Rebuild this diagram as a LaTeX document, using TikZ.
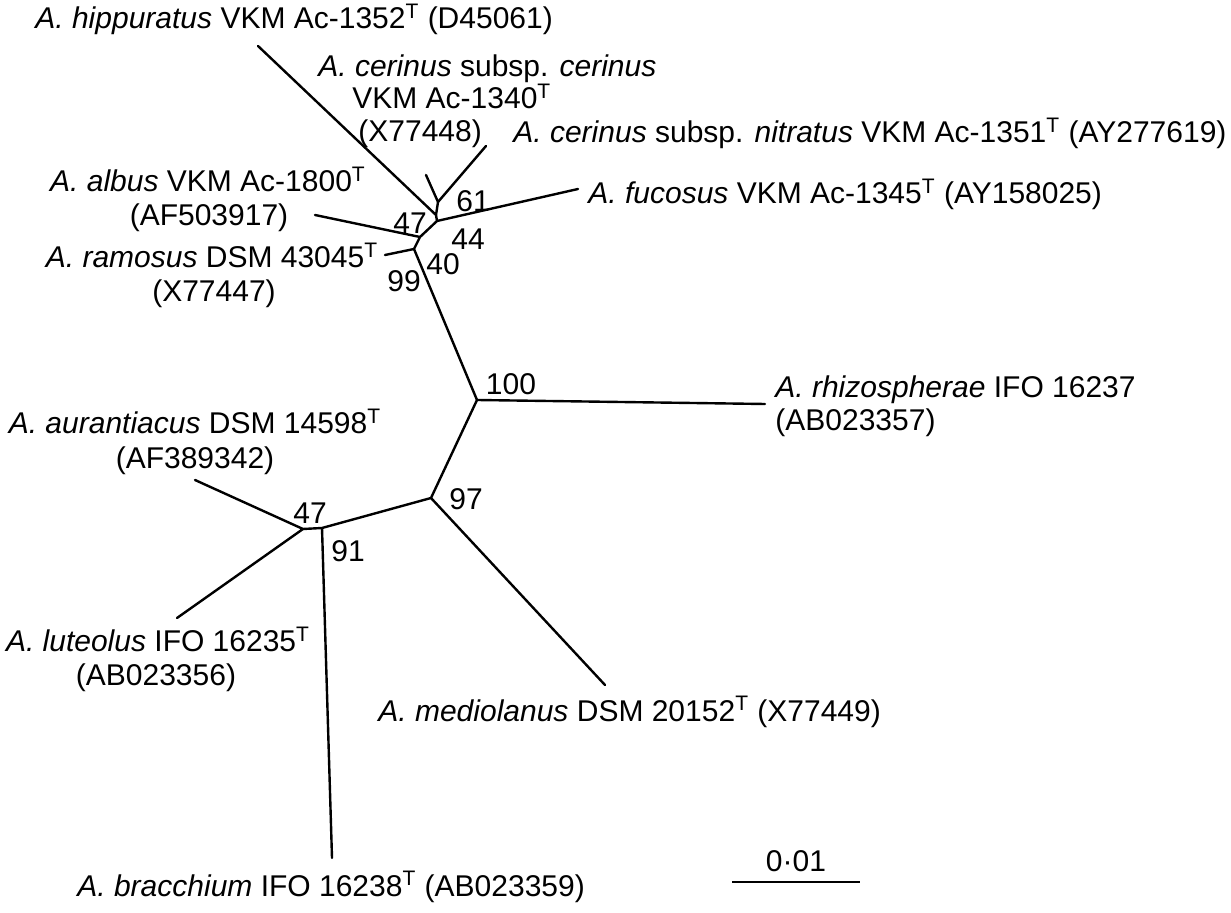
\documentclass[tikz,border=0pt]{standalone}
\usepackage{fontspec}
\setmainfont{Liberation Sans}
\newcommand{\treefont}{\fontsize{15}{17}\selectfont}
\newcommand{\typeT}{\textsuperscript{T}}

\begin{document}
\begin{tikzpicture}[x=0.5pt, y=-0.5pt,
  branch/.style={line width=1.2pt, line cap=round, line join=round},
  taxon/.style={inner sep=0pt, font=\treefont},
  boot/.style={inner sep=0pt, font=\treefont},
]
\useasboundingbox (0,0) rectangle (1231,913);

% Internal nodes of the tree
\coordinate (ncer) at (438,202);
\coordinate (nhip) at (436,215);
\coordinate (nfuc) at (437,221);
\coordinate (nalb) at (420,237);
\coordinate (nram) at (414,249);
\coordinate (nroot) at (477,400);
\coordinate (nmed) at (431,498);
\coordinate (nbra) at (322,528);
\coordinate (naur) at (303,529);

% Leaf ends
\coordinate (lhip) at (258,46);
\coordinate (lcer) at (426,175);
\coordinate (lnit) at (486,146);
\coordinate (lfuc) at (578,189);
\coordinate (lalb) at (315,215);
\coordinate (lram) at (385,255);
\coordinate (lrhi) at (765,404);
\coordinate (lmed) at (605,685);
\coordinate (laur) at (195,480);
\coordinate (llut) at (177,618);
\coordinate (lbra) at (332,858);

% Branches -- upper group
\draw[branch] (lcer) -- (ncer) -- (lnit);
\draw[branch] (ncer) -- (nhip) -- (nfuc) -- (nalb) -- (nram) -- (nroot);
\draw[branch] (lhip) -- (nhip);
\draw[branch] (nfuc) -- (lfuc);
\draw[branch] (lalb) -- (nalb);
\draw[branch] (lram) -- (nram);

% Branches -- lower group
\draw[branch] (nroot) -- (lrhi);
\draw[branch] (nroot) -- (nmed) -- (lmed);
\draw[branch] (nmed) -- (nbra) -- (naur);
\draw[branch] (nbra) -- (lbra);
\draw[branch] (laur) -- (naur) -- (llut);

% Taxon labels
\node[taxon, anchor=base west] (thip) at (35,29)
  {\textit{A. hippuratus} VKM Ac-1352\typeT{} (D45061)};
\node[taxon, anchor=base west] (tcerA) at (318,77)
  {\textit{A. cerinus} subsp. \textit{cerinus}};
\node[taxon, anchor=base west] (tcerB) at (352,109) {VKM Ac-1340\typeT};
\node[taxon, anchor=base west] (tcerC) at (358,142) {(X77448)};
\node[taxon, anchor=base west] (tnit) at (513,143)
  {\textit{A. cerinus} subsp. \textit{nitratus} VKM Ac-1351\typeT{} (AY277619)};
\node[taxon, anchor=base west] (tfuc) at (588,204)
  {\textit{A. fucosus} VKM Ac-1345\typeT{} (AY158025)};
\node[taxon, anchor=base] (talbA) at (208,192) {\textit{A. albus} VKM Ac-1800\typeT};
\node[taxon, anchor=base] (talbB) at (209,226) {(AF503917)};
\node[taxon, anchor=base] (tramA) at (212,268) {\textit{A. ramosus} DSM 43045\typeT};
\node[taxon, anchor=base] (tramB) at (214,302) {(X77447)};
\node[taxon, anchor=base west] (trhiA) at (775,398) {\textit{A. rhizospherae} IFO 16237};
\node[taxon, anchor=base west] (trhiB) at (775,431) {(AB023357)};
\node[taxon, anchor=base] (taurA) at (195,434) {\textit{A. aurantiacus} DSM 14598\typeT};
\node[taxon, anchor=base] (taurB) at (195,469) {(AF389342)};
\node[taxon, anchor=base] (tlutA) at (158,652) {\textit{A. luteolus} IFO 16235\typeT};
\node[taxon, anchor=base] (tlutB) at (156,686) {(AB023356)};
\node[taxon, anchor=base west] (tmed) at (378,721)
  {\textit{A. mediolanus} DSM 20152\typeT{} (X77449)};
\node[taxon, anchor=base west] (tbra) at (77,896)
  {\textit{A. bracchium} IFO 16238\typeT{} (AB023359)};

% Bootstrap values
\node[boot] (b61) at (473,201) {61};
\node[boot] (b47a) at (410,223) {47};
\node[boot] (b44) at (468,239) {44};
\node[boot] (b40) at (443,264) {40};
\node[boot] (b99) at (404,281) {99};
\node[boot] (b100) at (511,384) {100};
\node[boot] (b97) at (466,499) {97};
\node[boot] (b47b) at (310,513) {47};
\node[boot] (b91) at (348,551) {91};

% Scale bar
\coordinate (sbL) at (732,882);
\coordinate (sbR) at (860,882);
\draw[branch, line cap=butt] (sbL) -- (sbR);
\node[taxon, anchor=base] (sbtxt) at (796,871) {0·01};

\end{tikzpicture}
\end{document}
